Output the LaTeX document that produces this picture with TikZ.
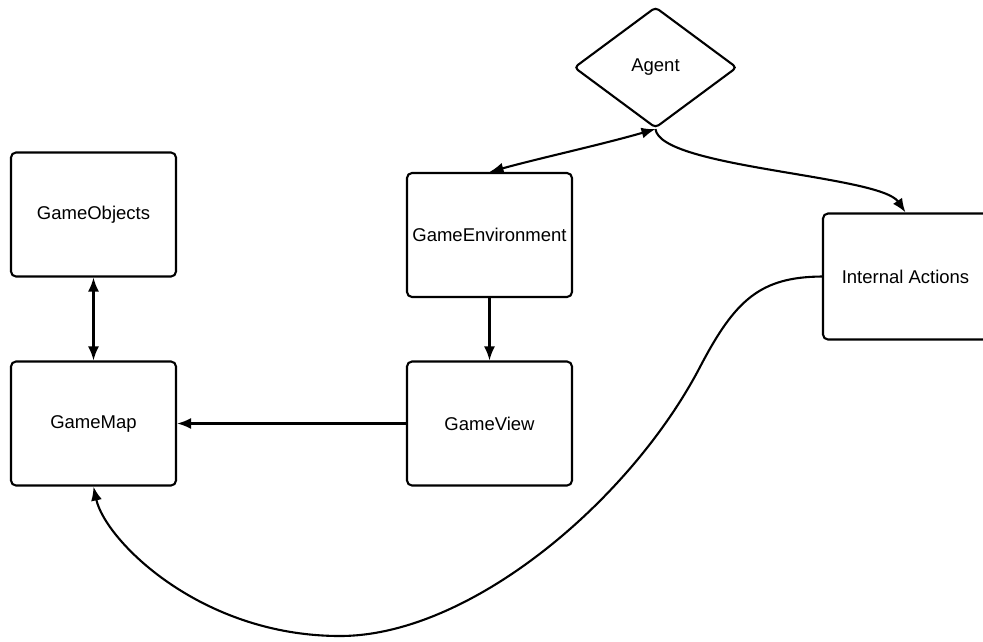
\documentclass[tikz,border=0pt]{standalone}
\usepackage{fontspec}
\setmainfont{Liberation Sans}
\usepackage{tikz}
\usetikzlibrary{arrows.meta,positioning,shapes.geometric}

\begin{document}
\begin{tikzpicture}[x=1pt,y=-1pt,
  box/.style={draw,rounded corners=5pt,line width=2.1pt,minimum width=165pt,minimum height=124pt,align=center,font=\fontsize{18.5}{21}\selectfont},
  dmd/.style={draw,diamond,rounded corners=4pt,line width=2.1pt,minimum width=163pt,minimum height=121pt,inner sep=0pt,font=\fontsize{18.5}{21}\selectfont},
  arr/.style={-{Latex[length=14pt,width=11pt]},line width=2.1pt},
  darr/.style={{Latex[length=14pt,width=11pt]}-{Latex[length=14pt,width=11pt]},line width=2.1pt}
]
\useasboundingbox (0,0) rectangle (983,641);
\node[box] (objects) at (93.5,214.5) {GameObjects};
\node[box] (gamemap) at (93.5,423.5) {GameMap};
\node[box] (gameenv) at (489.5,235) {GameEnvironment};
\node[box] (gameview) at (489.5,423.5) {GameView};
\node[box,minimum height=126pt] (intact) at (905.5,276.5) {Internal Actions};
\node[dmd] (agent) at (655.5,67.5) {Agent};
\draw[darr] (objects) -- (gamemap);
\draw[arr] (gameenv) -- (gameview);
\draw[arr] (gameview) -- (gamemap);
\draw[darr] (gameenv.north) .. controls (540,158) and (600,145) .. (agent.south);
\draw[arr] (agent.south) .. controls (660,168) and (880,175) .. (intact.north);
\draw[arr] (intact.west) .. controls (760,277) and (735,300) .. (700,367)
  .. controls (630,501) and (470,636) .. (340,636)
  .. controls (200,636) and (105,540) .. (gamemap.south);
\end{tikzpicture}
\end{document}
